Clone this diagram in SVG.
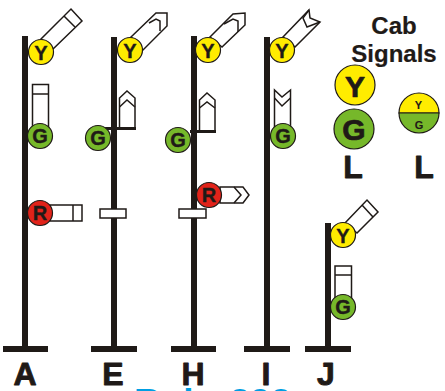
<svg xmlns="http://www.w3.org/2000/svg" width="445" height="391" viewBox="0 0 445 391">
<style>
.pole{fill:#1f1a17}
.arm{fill:#fff;stroke:#1f1a17;stroke-width:1.5;stroke-linejoin:miter}
.line{fill:none;stroke:#1f1a17;stroke-width:1.5}
.bar{fill:#fff;stroke:#1f1a17;stroke-width:1.5}
.c{stroke:#1f1a17;stroke-width:1.2}
.y{fill:#ffec00}.g{fill:#76b82a}.r{fill:#e1231a}
.t{font-family:"Liberation Sans",Arial,sans-serif;font-weight:700;fill:#1f1a17;text-anchor:middle;stroke:#1f1a17;stroke-linejoin:round}
.s{font-size:20px;stroke-width:.4px}
.b{font-size:32px;stroke-width:.9px}
.h{font-size:24px;stroke-width:.2px}
.m{font-size:30px;stroke-width:.7px}
.n{font-size:11px;stroke-width:.1px}
</style>
<g id="mast-A">
<rect class="pole" x="22" y="36" width="6" height="311"/><rect class="pole" x="3" y="346" width="45" height="6"/>
<path class="arm" d="M41 39L71 9L82 21L53 49Z"/><path class="line" d="M64 16L75 27"/>
<path class="arm" d="M32.500 84.500H48.500V128H32.500Z"/><path class="line" d="M32.500 94H48.500"/>
<path class="arm" d="M50 205H82V221H50Z"/><path class="line" d="M73 205V221"/>
<circle class="c y" cx="41" cy="52" r="12.500"/><text class="t s" x="41" y="59.500">Y</text>
<circle class="c g" cx="40" cy="136" r="12.500"/><text class="t s" x="40" y="143">G</text>
<circle class="c r" cx="40" cy="213" r="12.500"/><text class="t s" x="40" y="220">R</text>
</g>
<g id="mast-E">
<rect class="pole" x="111" y="37" width="6" height="310"/><rect class="pole" x="91" y="346" width="46" height="6"/>
<path class="arm" d="M131 37L156 13L167 13V26L143 50Z"/><path class="line" d="M149 23L156 19L160 21V31"/>
<path class="arm" d="M119.500 128V98L127 91L135 98V128Z"/><path class="line" d="M119.500 107L127 100L135 107"/>
<path class="pole" d="M105 127H136V130H105Z"/>
<rect class="bar" x="100" y="209" width="26" height="9"/>
<circle class="c y" cx="130" cy="50" r="12.500"/><text class="t s" x="130" y="57.500">Y</text>
<circle class="c g" cx="98" cy="138" r="12.500"/><text class="t s" x="98" y="145">G</text>
</g>
<g id="mast-H">
<rect class="pole" x="191" y="36" width="6" height="311"/><rect class="pole" x="171" y="346" width="45" height="6"/>
<path class="arm" d="M210 37L233 14L245 13V25L222 47Z"/><path class="line" d="M224 24L233 19L238 21V32"/>
<path class="arm" d="M199.500 131V100L207 93L215 100V131Z"/><path class="line" d="M199.500 108L207 102L215 108"/>
<path class="pole" d="M190 130H216V133H190Z"/>
<path class="arm" d="M220 187H243L249 195L243 203H220Z"/><path class="line" d="M234 187L241 195L234 203"/>
<rect class="bar" x="179" y="209" width="27" height="9"/>
<circle class="c y" cx="208" cy="50" r="12.500"/><text class="t s" x="208" y="57.500">Y</text>
<circle class="c g" cx="178" cy="140" r="12.500"/><text class="t s" x="178" y="147">G</text>
<circle class="c r" cx="209" cy="195" r="12.500"/><text class="t s" x="209" y="202">R</text>
</g>
<g id="mast-I">
<rect class="pole" x="264" y="37" width="6" height="310"/><rect class="pole" x="244" y="346" width="46" height="6"/>
<path class="arm" d="M283 37L309 10L310 18L320 22L295 47Z"/><path class="line" d="M309 10L303 18L307 27L320 22"/>
<path class="arm" d="M274.500 127V90L282 97L290.500 90V127Z"/><path class="line" d="M274.500 98L282 106L290.500 98"/>
<circle class="c y" cx="282" cy="50" r="12.500"/><text class="t s" x="282" y="57.500">Y</text>
<circle class="c g" cx="283" cy="136" r="12.500"/><text class="t s" x="283" y="143">G</text>
</g>
<g id="mast-J">
<rect class="pole" x="325" y="223" width="6" height="124"/><rect class="pole" x="305" y="346" width="46" height="6"/>
<path class="arm" d="M345 223L367 200L378 212L357 233Z"/><path class="line" d="M362 205L373 217"/>
<path class="arm" d="M335 266H351.500V300H335Z"/><path class="line" d="M335 275H351.500"/>
<circle class="c y" cx="343" cy="235" r="12.500"/><text class="t s" x="343" y="242.500">Y</text>
<circle class="c g" cx="343" cy="307" r="12.500"/><text class="t s" x="343" y="314">G</text>
</g>
<g id="cab-YG">
<circle class="c y" cx="355" cy="85" r="20"/><text class="t m" x="355" y="96.500">Y</text>
<circle class="c g" cx="354" cy="129" r="20"/><text class="t m" x="354" y="140">G</text>
</g>
<g id="cab-split">
<path class="c y" d="M399 113A20 20 0 0 1 439 113Z"/>
<path class="c g" d="M399 113A20 20 0 0 0 439 113Z"/>
<text class="t n" x="418.500" y="108.500">Y</text>
<text class="t n" x="419" y="129">G</text>
</g>
<g id="labels">
<text class="t h" x="394" y="33.500">Cab</text>
<text class="t h" x="394" y="62">Signals</text>
<text class="t b" x="353" y="177.500">L</text>
<text class="t b" x="424" y="177.500">L</text>
<text class="t b" x="25" y="384.500">A</text>
<text class="t b" x="113" y="384.500">E</text>
<text class="t b" x="193" y="384.500">H</text>
<text class="t b" x="266" y="384.500">I</text>
<text class="t b" x="326" y="384.500">J</text>
<text style="font-family:'Liberation Sans',Arial,sans-serif;font-weight:700;font-size:37px;fill:#009fe3;word-spacing:5px" x="134" y="414.500">Rule 292</text>
</g>
</svg>
